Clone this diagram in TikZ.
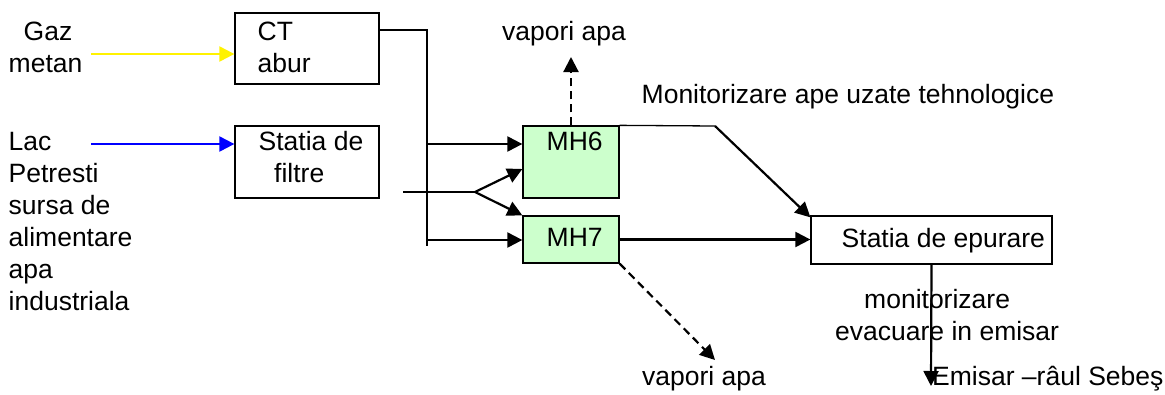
\documentclass[tikz,border=0pt]{standalone}
\usepackage{fontspec}
\setmainfont{Liberation Sans}
\usetikzlibrary{arrows.meta}
\definecolor{mhgreen}{HTML}{CCFFCC}
\begin{document}
\begin{tikzpicture}[x=1pt,y=-1pt,
  font=\fontsize{26.5}{32}\selectfont,
  box/.style={draw, line width=1.3pt, inner sep=0pt},
  thinln/.style={line width=1.3pt},
  arr/.style={line width=2.2pt, -{Triangle[length=15pt,width=15pt]}},
  dash8/.style={dash pattern=on 8pt off 5pt},
  txt/.style={anchor=base west, inner sep=0pt}]
\useasboundingbox (0,0) rectangle (1165,394);
% boxes
\node[box, minimum width=144pt, minimum height=71pt] (ct) at (307,48.5) {};
\node[box, minimum width=144pt, minimum height=72pt] (filt) at (307,162) {};
\node[box, fill=mhgreen, minimum width=96pt, minimum height=72pt] (mh6) at (571,162) {};
\node[box, fill=mhgreen, minimum width=96pt, minimum height=47pt] (mh7) at (571,239.5) {};
\node[box, minimum width=241pt, minimum height=48pt] (ep) at (931.5,240) {};
% texts
\node[txt] (t1) at (23.5,40) {Gaz};
\node[txt] (t2) at (8.5,72) {metan};
\node[txt] (t3) at (257.5,40) {CT};
\node[txt] (t4) at (257.5,72) {abur};
\node[txt] (l1) at (8.5,150) {Lac};
\node[txt] (l2) at (8.5,182) {Petresti};
\node[txt] (l3) at (8.5,214) {sursa de};
\node[txt] (l4) at (8.5,246) {alimentare};
\node[txt] (l5) at (8.5,278) {apa};
\node[txt] (l6) at (8.5,310) {industriala};
\node[txt] (s1) at (258.5,150) {Statia de};
\node[txt] (s2) at (274,182) {filtre};
\node[txt] (m6) at (546.5,150) {MH6};
\node[txt] (m7) at (546.5,246) {MH7};
\node[txt] (va1) at (502,40) {vapori apa};
\node[txt] (mon) at (641.5,103) {Monitorizare ape uzate tehnologice};
\node[txt] (ept) at (841.5,247) {Statia de epurare};
\node[txt] (mo2) at (864,308) {monitorizare};
\node[txt] (evc) at (835,340) {evacuare in emisar};
\node[txt] (va2) at (642,385) {vapori apa};
\node[txt] (emi) at (932,385) {Emisar –râul Sebeş};
% coordinates
\coordinate (gazin) at (91,54);
\coordinate (lacin) at (91,144);
\coordinate (j1) at (427,30);
\coordinate (j2) at (427,246);
\coordinate (b1) at (427,144);
\coordinate (b2) at (427,240);
\coordinate (f0) at (403,192);
\coordinate (fork) at (475,192);
\coordinate (v1) at (571,57);
\coordinate (bend) at (715,126);
\coordinate (v2) at (715,360);
\coordinate (e1) at (931,386);
% connectors
\draw[arr, draw=yellow, fill=yellow] (gazin) -- (gazin -| ct.west);
\draw[arr, draw=blue, fill=blue] (lacin) -- (lacin -| filt.west);
\draw[thinln] (j1 -| ct.east) -- (j1) -- (j2);
\draw[arr] (b1) -- (b1 -| mh6.west);
\draw[arr] (b2) -- (b2 -| mh7.west);
\draw[thinln] (f0) -- (fork);
\draw[arr] (fork) -- ([yshift=-7pt]mh6.west);
\draw[arr] (fork) -- (mh7.north west);
\draw[arr, dash8] (mh6.north) -- (v1);
\draw[thinln] (mh6.north east) -- (bend);
\draw[arr] (bend) -- ([yshift=-2pt]ep.north west);
\draw[arr] (mh7.east) -- (mh7.east -| ep.west);
\draw[arr, dash8] (mh7.south east) -- (v2);
\draw[arr] (ep.south) -- (e1);
\end{tikzpicture}
\end{document}
